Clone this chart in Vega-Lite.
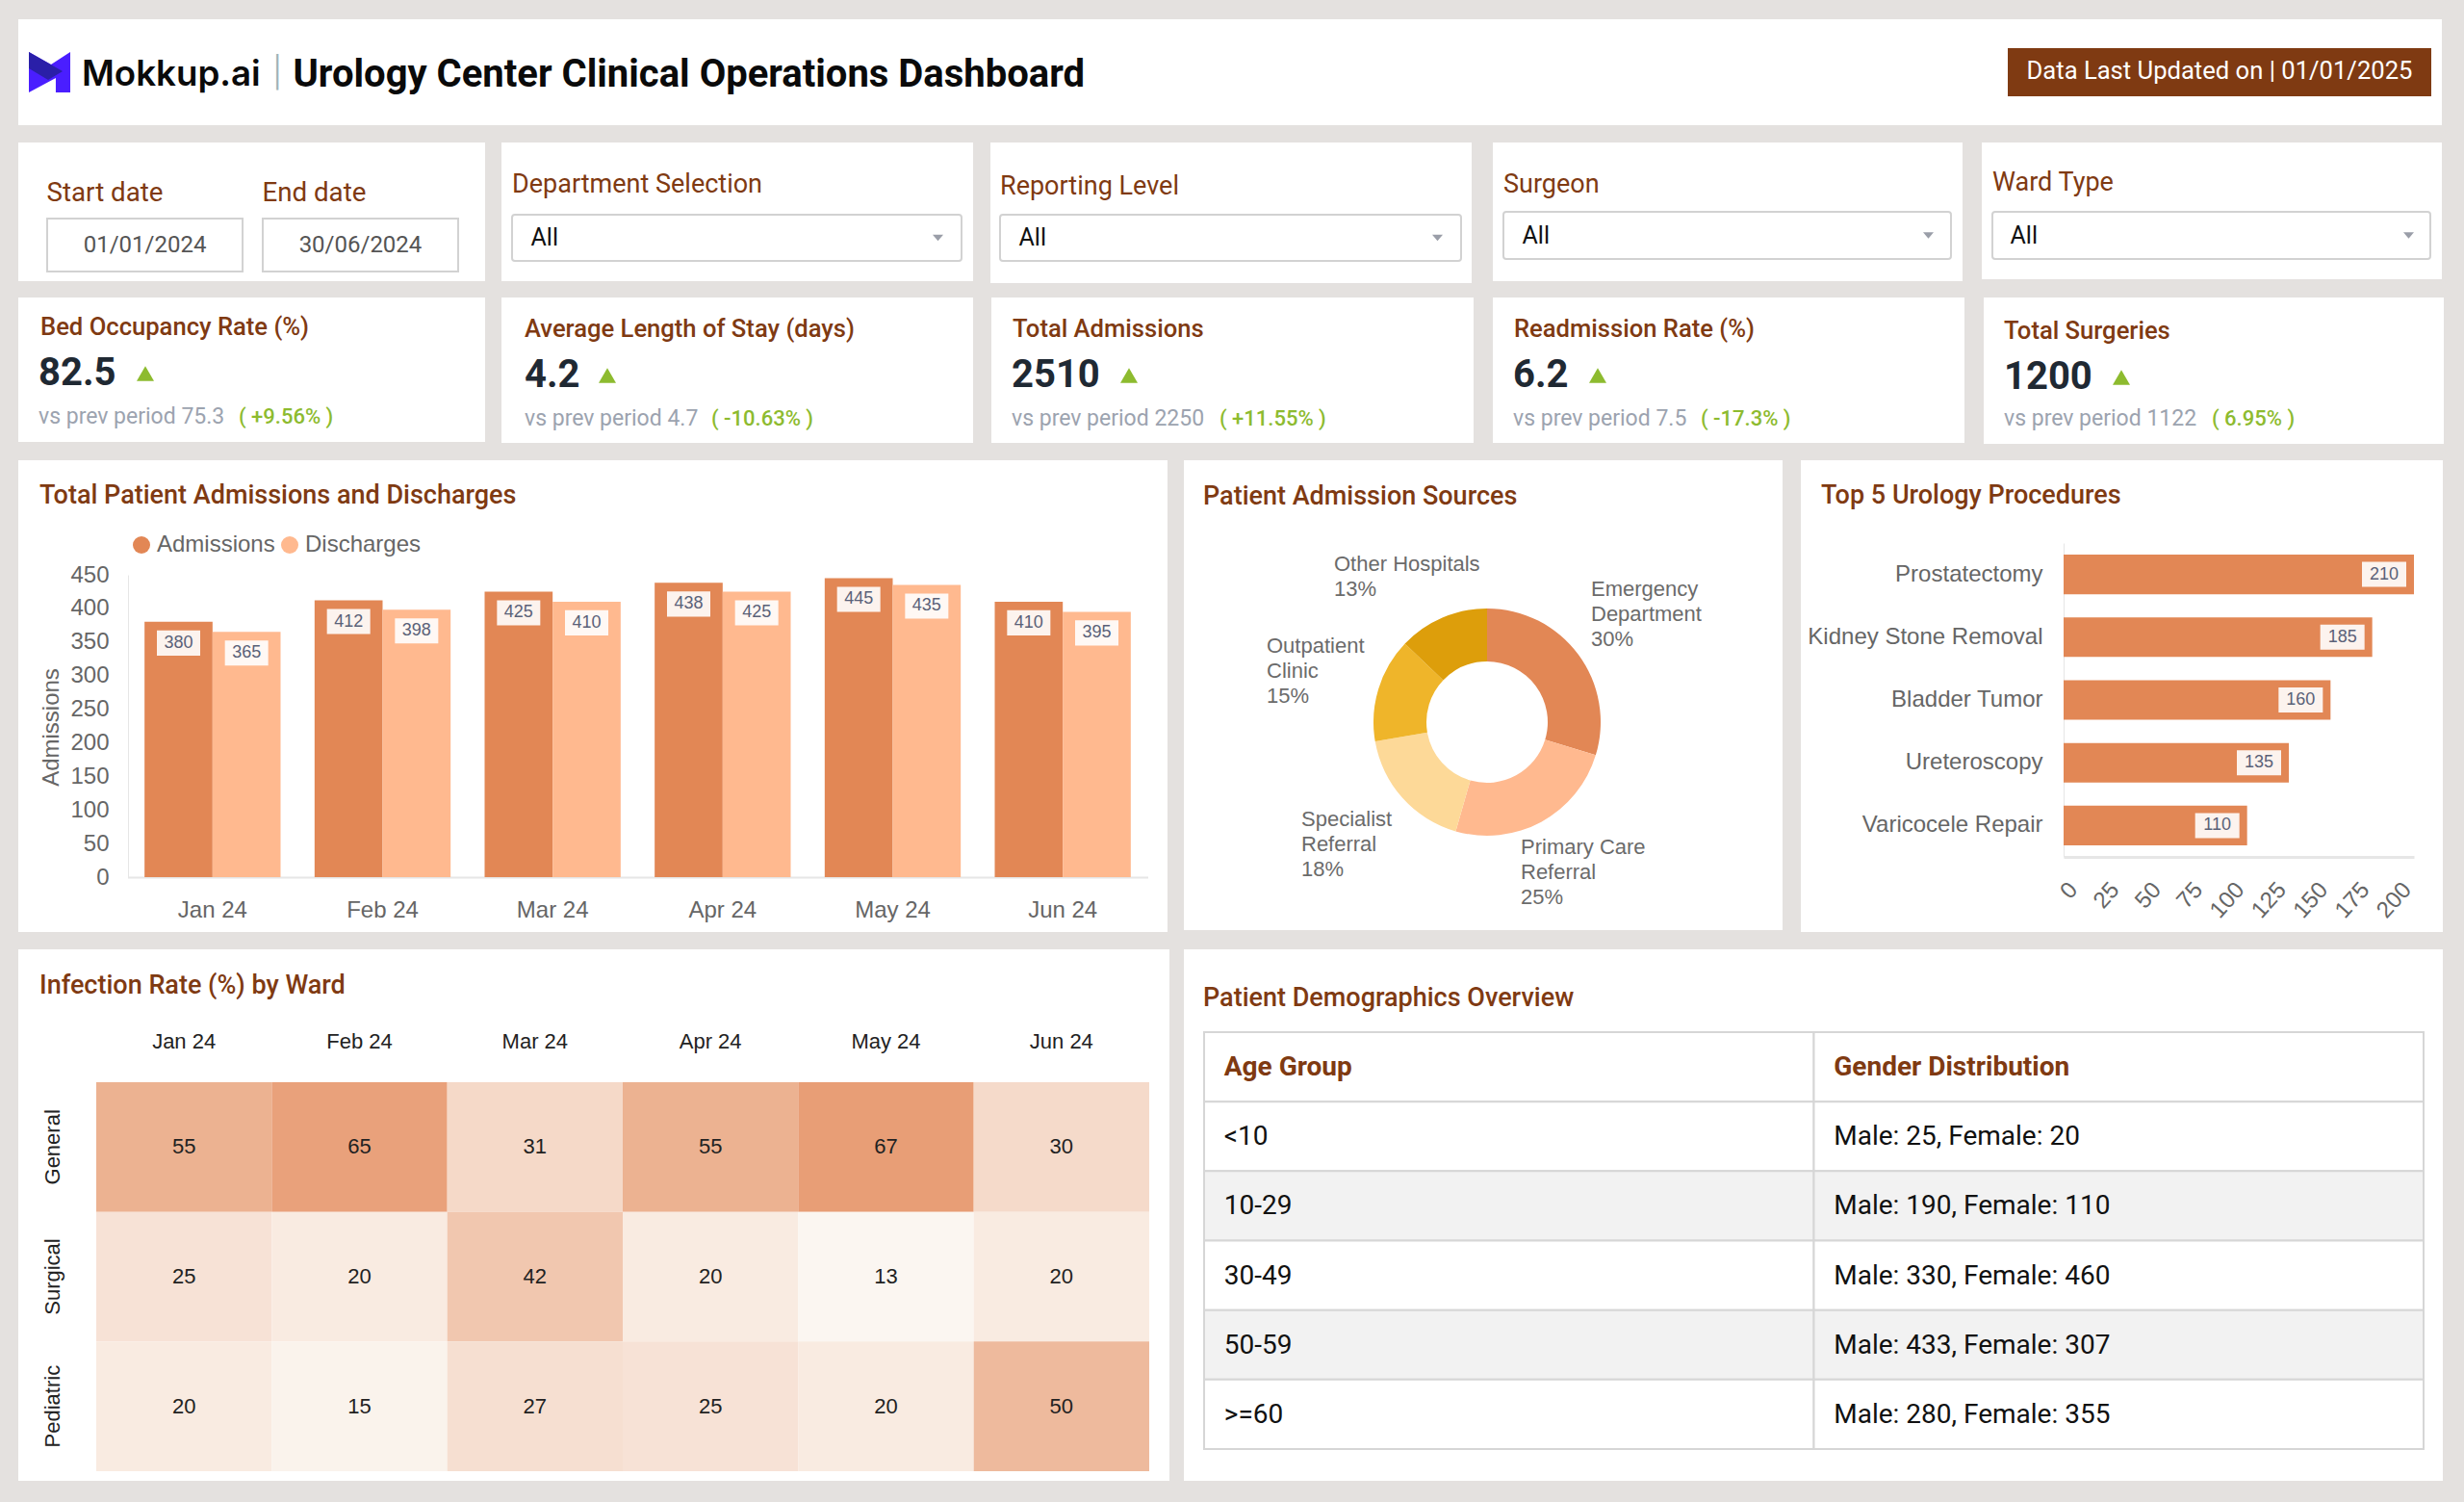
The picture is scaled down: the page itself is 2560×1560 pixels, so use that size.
{"$schema":"https://vega.github.io/schema/vega-lite/v6.json","padding":{"left":19,"top":20,"right":21,"bottom":22},"background":"#E4E1DF","config":{"view":{"fill":"white","stroke":null},"title":{"anchor":"start","frame":"group","font":"Roboto","fontSize":27,"fontWeight":500,"color":"#7F3A12"},"axis":{"grid":false,"ticks":false,"labelFont":"Liberation Sans","labelColor":"#666666","labelFontSize":24,"titleFont":"Liberation Sans","titleFontWeight":"normal","titleColor":"#666666","titleFontSize":24,"domainColor":"#E6E6E6"},"style":{"selected":{"font":"Roboto","fontSize":25,"color":"#111111","align":"left"},"dateLabel":{"font":"Roboto","fontSize":27.7,"color":"#7F3A12","align":"left"},"dateValue":{"font":"Roboto","fontSize":24,"color":"#555555"},"kpiValue":{"font":"Roboto","fontSize":40,"fontWeight":700,"color":"#1F2933","align":"left"},"kpiPrev":{"font":"Roboto","fontSize":23,"color":"#9CA3AF","align":"left"},"kpiChange":{"font":"Roboto","fontSize":22,"fontWeight":500,"color":"#8DBB2F","align":"left"},"barLabel":{"font":"Liberation Sans","fontSize":18,"color":"#5A6178"},"heatText":{"font":"Liberation Sans","fontSize":22,"color":"#222222"},"tableBody":{"font":"Roboto","fontSize":28,"color":"#111111","align":"left"},"tableHead":{"font":"Roboto","fontSize":28,"fontWeight":700,"color":"#7F3A12","align":"left"},"donutLabel":{"font":"Liberation Sans","fontSize":22,"color":"#6B6B6B","align":"left","baseline":"top","lineBreak":"\n","lineHeight":26}}},"resolve":{"scale":{"color":"independent","fill":"independent"}},"vconcat":[{"resolve":{"scale":{"color":"independent","fill":"independent"}},"vconcat":[{"vconcat":[{"width":2518,"height":110,"data":{"values":[{"brand":"Mokkup.ai","dashboard":"Urology Center Clinical Operations Dashboard","updated":"Data Last Updated on | 01/01/2025"}]},"resolve":{"scale":{"x":"independent"}},"layer":[{"mark":{"type":"point","filled":true,"opacity":1,"size":1849,"color":"#4A1EFF","shape":"M-1,-0.98L0.07,-0.37L1,-0.98V0.98H0.3V0.28L-1,0.98Z"},"encoding":{"x":{"field":"brand","type":"nominal","axis":null,"scale":{"range":[32.5,32.5]}}}},{"mark":{"type":"point","filled":true,"opacity":1,"size":1849,"color":"#2A1FA8","shape":"M-1,-0.98L0.63,-0.05L-0.07,0.37L-1,-0.19Z"},"encoding":{"x":{"field":"brand","type":"nominal","axis":null,"scale":{"range":[32.5,32.5]}}}},{"mark":{"type":"text","align":"left","font":"Inter","fontSize":36.7,"fontWeight":600,"color":"#0A0A0A","dy":3},"encoding":{"x":{"field":"brand","type":"nominal","axis":null,"scale":{"range":[66,66]}},"text":{"field":"brand"}}},{"mark":{"type":"text","text":"|","font":"Roboto","fontWeight":300,"fontSize":44,"color":"#9FB3B8"},"encoding":{"x":{"field":"brand","type":"nominal","axis":null,"scale":{"range":[269,269]}}}},{"mark":{"type":"text","align":"left","font":"Roboto","fontSize":40,"fontWeight":700,"color":"#0A0A0A","dy":3},"encoding":{"x":{"field":"dashboard","type":"nominal","axis":null,"scale":{"range":[285.5,285.5]}},"text":{"field":"dashboard"}}},{"mark":{"type":"rect","color":"#7F3A12"},"encoding":{"x":{"field":"updated","type":"nominal","axis":null,"scale":{"type":"band","range":[2067,2507],"paddingInner":0,"paddingOuter":0}},"y":{"field":"updated","type":"nominal","axis":null,"scale":{"type":"band","range":[30,80],"paddingInner":0,"paddingOuter":0}}}},{"mark":{"type":"text","font":"Roboto","fontSize":25.6,"color":"white","dy":-1},"encoding":{"x":{"field":"updated","type":"nominal","axis":null,"scale":{"range":[2287,2287]}},"text":{"field":"updated"}}}]},{"hconcat":[{"hconcat":[{"hconcat":[{"width":485,"height":144,"data":{"values":[{"control":"Start date","date":"01/01/2024"},{"control":"End date","date":"30/06/2024"}]},"encoding":{"x":{"field":"control","type":"nominal","sort":["Start date","End date"],"axis":null,"scale":{"type":"band","domain":["Start date","End date"],"range":[30,457],"paddingInner":0.0935,"paddingOuter":0}},"y":{"datum":"dates","axis":null,"scale":{"type":"band","range":[79,134],"paddingInner":0,"paddingOuter":0}}},"layer":[{"mark":{"type":"rect","fill":"white","stroke":"#D2D2D2","strokeWidth":2}},{"mark":{"type":"text","style":"dateValue"},"encoding":{"text":{"field":"date"}}},{"mark":{"type":"text","style":"dateLabel","dx":-102,"dy":-54},"encoding":{"text":{"field":"control"}}}]},{"width":490,"height":144,"title":{"text":"Department Selection","dx":11,"offset":-58,"fontWeight":400},"data":{"values":[{"control":"Department Selection","selected":"All"}]},"encoding":{"x":{"field":"control","type":"nominal","axis":null,"scale":{"type":"band","range":[11,478],"paddingInner":0,"paddingOuter":0}},"y":{"field":"control","type":"nominal","axis":null,"scale":{"type":"band","range":[75,123],"paddingInner":0,"paddingOuter":0}}},"layer":[{"mark":{"type":"rect","fill":"white","stroke":"#D2D2D2","strokeWidth":2,"cornerRadius":3}},{"mark":{"type":"text","style":"selected","dx":-214},"encoding":{"text":{"field":"selected"}}},{"mark":{"type":"point","filled":true,"opacity":1,"color":"#9A9EA8","size":121,"shape":"M-1,-0.6H1L0,0.6Z","xOffset":209}}]}],"spacing":17},{"width":500,"height":146,"title":{"text":"Reporting Level","dx":10,"offset":-60,"fontWeight":400},"data":{"values":[{"control":"Reporting Level","selected":"All"}]},"encoding":{"x":{"field":"control","type":"nominal","axis":null,"scale":{"type":"band","range":[10,489],"paddingInner":0,"paddingOuter":0}},"y":{"field":"control","type":"nominal","axis":null,"scale":{"type":"band","range":[75,123],"paddingInner":0,"paddingOuter":0}}},"layer":[{"mark":{"type":"rect","fill":"white","stroke":"#D2D2D2","strokeWidth":2,"cornerRadius":3}},{"mark":{"type":"text","style":"selected","dx":-220},"encoding":{"text":{"field":"selected"}}},{"mark":{"type":"point","filled":true,"opacity":1,"color":"#9A9EA8","size":121,"shape":"M-1,-0.6H1L0,0.6Z","xOffset":215}}]}],"spacing":18},{"hconcat":[{"width":488,"height":144,"title":{"text":"Surgeon","dx":11,"offset":-58,"fontWeight":400},"data":{"values":[{"control":"Surgeon","selected":"All"}]},"encoding":{"x":{"field":"control","type":"nominal","axis":null,"scale":{"type":"band","range":[11,476],"paddingInner":0,"paddingOuter":0}},"y":{"field":"control","type":"nominal","axis":null,"scale":{"type":"band","range":[72,121],"paddingInner":0,"paddingOuter":0}}},"layer":[{"mark":{"type":"rect","fill":"white","stroke":"#D2D2D2","strokeWidth":2,"cornerRadius":3}},{"mark":{"type":"text","style":"selected","dx":-213},"encoding":{"text":{"field":"selected"}}},{"mark":{"type":"point","filled":true,"opacity":1,"color":"#9A9EA8","size":121,"shape":"M-1,-0.6H1L0,0.6Z","xOffset":209}}]},{"width":478,"height":142,"title":{"text":"Ward Type","dx":11,"offset":-56,"fontWeight":400},"data":{"values":[{"control":"Ward Type","selected":"All"}]},"encoding":{"x":{"field":"control","type":"nominal","axis":null,"scale":{"type":"band","range":[11,466],"paddingInner":0,"paddingOuter":0}},"y":{"field":"control","type":"nominal","axis":null,"scale":{"type":"band","range":[72,121],"paddingInner":0,"paddingOuter":0}}},"layer":[{"mark":{"type":"rect","fill":"white","stroke":"#D2D2D2","strokeWidth":2,"cornerRadius":3}},{"mark":{"type":"text","style":"selected","dx":-209},"encoding":{"text":{"field":"selected"}}},{"mark":{"type":"point","filled":true,"opacity":1,"color":"#9A9EA8","size":121,"shape":"M-1,-0.6H1L0,0.6Z","xOffset":205}}]}],"spacing":20}],"spacing":22}],"spacing":18},{"resolve":{"scale":{"color":"independent","fill":"independent"}},"vconcat":[{"hconcat":[{"hconcat":[{"hconcat":[{"width":485,"height":150,"title":{"text":"Bed Occupancy Rate (%)","dx":23,"offset":-45,"fontSize":25.6},"data":{"values":[{"metric":"Bed Occupancy Rate (%)","value":"82.5","previous":"vs prev period 75.3","change":"( +9.56% )"}]},"encoding":{"x":{"field":"metric","type":"nominal","axis":null,"scale":{"range":[21,21]}}},"layer":[{"mark":{"type":"text","style":"kpiValue"},"encoding":{"text":{"field":"value"},"y":{"datum":"main","axis":null,"scale":{"domain":["main","compare"],"range":[79,124],"padding":0}}}},{"mark":{"type":"point","shape":"triangle-up","filled":true,"opacity":1,"size":324,"color":"#8DBB2F","xOffset":111},"encoding":{"y":{"datum":"main","axis":null}}},{"mark":{"type":"text","style":"kpiPrev"},"encoding":{"text":{"field":"previous"},"y":{"datum":"compare","axis":null}}},{"mark":{"type":"text","style":"kpiChange","dx":208},"encoding":{"text":{"field":"change"},"y":{"datum":"compare","axis":null}}}]},{"width":490,"height":151,"title":{"text":"Average Length of Stay (days)","dx":24,"offset":-47,"fontSize":25.6},"data":{"values":[{"metric":"Average Length of Stay (days)","value":"4.2","previous":"vs prev period 4.7","change":"( -10.63% )"}]},"encoding":{"x":{"field":"metric","type":"nominal","axis":null,"scale":{"range":[24,24]}}},"layer":[{"mark":{"type":"text","style":"kpiValue"},"encoding":{"text":{"field":"value"},"y":{"datum":"main","axis":null,"scale":{"domain":["main","compare"],"range":[81,126],"padding":0}}}},{"mark":{"type":"point","shape":"triangle-up","filled":true,"opacity":1,"size":324,"color":"#8DBB2F","xOffset":86},"encoding":{"y":{"datum":"main","axis":null}}},{"mark":{"type":"text","style":"kpiPrev"},"encoding":{"text":{"field":"previous"},"y":{"datum":"compare","axis":null}}},{"mark":{"type":"text","style":"kpiChange","dx":194},"encoding":{"text":{"field":"change"},"y":{"datum":"compare","axis":null}}}]}],"spacing":17},{"width":501,"height":151,"title":{"text":"Total Admissions","dx":22,"offset":-47,"fontSize":25.6},"data":{"values":[{"metric":"Total Admissions","value":"2510","previous":"vs prev period 2250","change":"( +11.55% )"}]},"encoding":{"x":{"field":"metric","type":"nominal","axis":null,"scale":{"range":[21,21]}}},"layer":[{"mark":{"type":"text","style":"kpiValue"},"encoding":{"text":{"field":"value"},"y":{"datum":"main","axis":null,"scale":{"domain":["main","compare"],"range":[81,126],"padding":0}}}},{"mark":{"type":"point","shape":"triangle-up","filled":true,"opacity":1,"size":324,"color":"#8DBB2F","xOffset":122},"encoding":{"y":{"datum":"main","axis":null}}},{"mark":{"type":"text","style":"kpiPrev"},"encoding":{"text":{"field":"previous"},"y":{"datum":"compare","axis":null}}},{"mark":{"type":"text","style":"kpiChange","dx":216},"encoding":{"text":{"field":"change"},"y":{"datum":"compare","axis":null}}}]}],"spacing":19},{"hconcat":[{"width":490,"height":151,"title":{"text":"Readmission Rate (%)","dx":22,"offset":-47,"fontSize":25.6},"data":{"values":[{"metric":"Readmission Rate (%)","value":"6.2","previous":"vs prev period 7.5","change":"( -17.3% )"}]},"encoding":{"x":{"field":"metric","type":"nominal","axis":null,"scale":{"range":[21,21]}}},"layer":[{"mark":{"type":"text","style":"kpiValue"},"encoding":{"text":{"field":"value"},"y":{"datum":"main","axis":null,"scale":{"domain":["main","compare"],"range":[81,126],"padding":0}}}},{"mark":{"type":"point","shape":"triangle-up","filled":true,"opacity":1,"size":324,"color":"#8DBB2F","xOffset":88},"encoding":{"y":{"datum":"main","axis":null}}},{"mark":{"type":"text","style":"kpiPrev"},"encoding":{"text":{"field":"previous"},"y":{"datum":"compare","axis":null}}},{"mark":{"type":"text","style":"kpiChange","dx":195},"encoding":{"text":{"field":"change"},"y":{"datum":"compare","axis":null}}}]},{"width":478,"height":152,"title":{"text":"Total Surgeries","dx":21,"offset":-49,"fontSize":25.6},"data":{"values":[{"metric":"Total Surgeries","value":"1200","previous":"vs prev period 1122","change":"( 6.95% )"}]},"encoding":{"x":{"field":"metric","type":"nominal","axis":null,"scale":{"range":[21,21]}}},"layer":[{"mark":{"type":"text","style":"kpiValue"},"encoding":{"text":{"field":"value"},"y":{"datum":"main","axis":null,"scale":{"domain":["main","compare"],"range":[83,126],"padding":0}}}},{"mark":{"type":"point","shape":"triangle-up","filled":true,"opacity":1,"size":324,"color":"#8DBB2F","xOffset":122},"encoding":{"y":{"datum":"main","axis":null}}},{"mark":{"type":"text","style":"kpiPrev"},"encoding":{"text":{"field":"previous"},"y":{"datum":"compare","axis":null}}},{"mark":{"type":"text","style":"kpiChange","dx":216},"encoding":{"text":{"field":"change"},"y":{"datum":"compare","axis":null}}}]}],"spacing":20}],"spacing":20},{"resolve":{"scale":{"color":"independent","fill":"independent"}},"hconcat":[{"resolve":{"scale":{"color":"independent","fill":"independent"}},"hconcat":[{"width":1194,"height":490,"title":{"text":"Total Patient Admissions and Discharges","dx":22,"offset":-51},"data":{"values":[{"month":"Jan 24","series":"Admissions","count":380},{"month":"Jan 24","series":"Discharges","count":365},{"month":"Feb 24","series":"Admissions","count":412},{"month":"Feb 24","series":"Discharges","count":398},{"month":"Mar 24","series":"Admissions","count":425},{"month":"Mar 24","series":"Discharges","count":410},{"month":"Apr 24","series":"Admissions","count":438},{"month":"Apr 24","series":"Discharges","count":425},{"month":"May 24","series":"Admissions","count":445},{"month":"May 24","series":"Discharges","count":435},{"month":"Jun 24","series":"Admissions","count":410},{"month":"Jun 24","series":"Discharges","count":395}]},"encoding":{"x":{"field":"month","type":"nominal","sort":["Jan 24","Feb 24","Mar 24","Apr 24","May 24","Jun 24"],"scale":{"range":[113.5,1173.5],"paddingInner":0.2,"paddingOuter":0.1},"axis":{"title":null,"labelAngle":0,"offset":-57,"labelPadding":22,"domainWidth":2}},"xOffset":{"field":"series","sort":["Admissions","Discharges"]},"y":{"field":"count","type":"quantitative","scale":{"domain":[0,450],"range":[433,119],"nice":false},"axis":{"title":"Admissions","offset":-114,"labelPadding":20,"values":[0,50,100,150,200,250,300,350,400,450],"titleX":-68,"titleY":277}}},"layer":[{"mark":{"type":"bar"},"encoding":{"color":{"field":"series","type":"nominal","scale":{"domain":["Admissions","Discharges"],"range":["#E28755","#FFB98F"]},"legend":{"orient":"none","legendX":116,"legendY":76,"direction":"horizontal","title":null,"symbolType":"circle","symbolSize":324,"symbolStrokeWidth":0,"labelFontSize":24,"labelFont":"Liberation Sans","labelColor":"#666666","columnPadding":3,"labelOffset":4}}}},{"mark":{"type":"point","filled":true,"opacity":0.9,"color":"white","size":2025,"shape":"M-1,-0.58H1V0.58H-1Z","yOffset":22}},{"mark":{"type":"text","style":"barLabel","yOffset":22},"encoding":{"text":{"field":"count"}}}]},{"width":622,"height":488,"title":{"text":"Patient Admission Sources","dx":20,"offset":-52},"data":{"values":[{"source":"Emergency Department","share":30,"rank":1,"label":"Emergency\nDepartment\n30%"},{"source":"Primary Care Referral","share":25,"rank":2,"label":"Primary Care\nReferral\n25%"},{"source":"Specialist Referral","share":18,"rank":3,"label":"Specialist\nReferral\n18%"},{"source":"Outpatient Clinic","share":15,"rank":4,"label":"Outpatient\nClinic\n15%"},{"source":"Other Hospitals","share":13,"rank":5,"label":"Other Hospitals\n13%"}]},"encoding":{"x":{"datum":"donut","axis":null,"scale":{"range":[315,315]}},"y":{"datum":"donut","axis":null,"scale":{"range":[272,272]}}},"layer":[{"mark":{"type":"arc","outerRadius":118,"innerRadius":63},"encoding":{"theta":{"field":"share","type":"quantitative","stack":true},"order":{"field":"rank"},"color":{"field":"source","type":"nominal","legend":null,"scale":{"domain":["Emergency Department","Primary Care Referral","Specialist Referral","Outpatient Clinic","Other Hospitals"],"range":["#E28755","#FFB98F","#FDD998","#EFB52A","#DD9E0B"]}}}},{"transform":[{"filter":"datum.rank==1"}],"mark":{"type":"text","style":"donutLabel","dx":108,"dy":-148},"encoding":{"text":{"field":"label"}}},{"transform":[{"filter":"datum.rank==2"}],"mark":{"type":"text","style":"donutLabel","dx":35,"dy":120},"encoding":{"text":{"field":"label"}}},{"transform":[{"filter":"datum.rank==3"}],"mark":{"type":"text","style":"donutLabel","dx":-193,"dy":91},"encoding":{"text":{"field":"label"}}},{"transform":[{"filter":"datum.rank==4"}],"mark":{"type":"text","style":"donutLabel","dx":-229,"dy":-89},"encoding":{"text":{"field":"label"}}},{"transform":[{"filter":"datum.rank==5"}],"mark":{"type":"text","style":"donutLabel","dx":-159,"dy":-174},"encoding":{"text":{"field":"label"}}}]}],"spacing":17},{"width":667,"height":490,"title":{"text":"Top 5 Urology Procedures","dx":21,"offset":-51},"data":{"values":[{"procedure":"Prostatectomy","cases":210},{"procedure":"Kidney Stone Removal","cases":185},{"procedure":"Bladder Tumor","cases":160},{"procedure":"Ureteroscopy","cases":135},{"procedure":"Varicocele Repair","cases":110}]},"encoding":{"y":{"field":"procedure","type":"nominal","sort":["Prostatectomy","Kidney Stone Removal","Bladder Tumor","Ureteroscopy","Varicocele Repair"],"scale":{"range":[86,412],"paddingInner":0.37,"paddingOuter":0.185},"axis":{"title":null,"offset":-273,"labelPadding":22,"labelLimit":400}},"x":{"field":"cases","type":"quantitative","scale":{"domain":[0,210],"range":[273,637],"nice":false},"axis":{"title":null,"offset":-78,"values":[0,25,50,75,100,125,150,175,200],"labelAngle":-48,"labelAlign":"right","labelBaseline":"middle","labelOffset":10,"labelPadding":30,"labelFontSize":24,"labelOverlap":false,"domainWidth":3}}},"layer":[{"mark":{"type":"bar","color":"#E28755"}},{"mark":{"type":"point","filled":true,"opacity":0.9,"color":"white","size":2116,"shape":"M-1,-0.565H1V0.565H-1Z","xOffset":-31}},{"mark":{"type":"text","style":"barLabel","xOffset":-31},"encoding":{"text":{"field":"cases"}}}]}],"spacing":19}],"spacing":17}],"spacing":15},{"resolve":{"scale":{"color":"independent","fill":"independent"}},"hconcat":[{"width":1196,"height":552,"title":{"text":"Infection Rate (%) by Ward","dx":22,"offset":-52},"data":{"values":[{"month":"Jan 24","ward":"General","rate":55},{"month":"Feb 24","ward":"General","rate":65},{"month":"Mar 24","ward":"General","rate":31},{"month":"Apr 24","ward":"General","rate":55},{"month":"May 24","ward":"General","rate":67},{"month":"Jun 24","ward":"General","rate":30},{"month":"Jan 24","ward":"Surgical","rate":25},{"month":"Feb 24","ward":"Surgical","rate":20},{"month":"Mar 24","ward":"Surgical","rate":42},{"month":"Apr 24","ward":"Surgical","rate":20},{"month":"May 24","ward":"Surgical","rate":13},{"month":"Jun 24","ward":"Surgical","rate":20},{"month":"Jan 24","ward":"Pediatric","rate":20},{"month":"Feb 24","ward":"Pediatric","rate":15},{"month":"Mar 24","ward":"Pediatric","rate":27},{"month":"Apr 24","ward":"Pediatric","rate":25},{"month":"May 24","ward":"Pediatric","rate":20},{"month":"Jun 24","ward":"Pediatric","rate":50}]},"encoding":{"x":{"field":"month","type":"nominal","sort":["Jan 24","Feb 24","Mar 24","Apr 24","May 24","Jun 24"],"scale":{"type":"band","range":[81,1175],"paddingInner":0,"paddingOuter":0},"axis":{"orient":"top","title":null,"labelAngle":0,"offset":-138,"labelPadding":31,"labelFontSize":22,"labelColor":"#222222","domain":false}},"y":{"field":"ward","type":"nominal","sort":["General","Surgical","Pediatric"],"scale":{"type":"band","range":[138,542],"paddingInner":0,"paddingOuter":0},"axis":{"title":null,"labelAngle":-90,"offset":-81,"labelPadding":34,"labelFontSize":22,"labelColor":"#222222","domain":false}}},"layer":[{"mark":{"type":"rect"},"encoding":{"color":{"field":"rate","type":"quantitative","legend":null,"scale":{"domain":[13,67],"range":["#FBF6F1","#E89E76"],"interpolate":"rgb"}}}},{"mark":{"type":"text","style":"heatText"},"encoding":{"text":{"field":"rate"}}}]},{"width":1308,"height":552,"title":{"text":"Patient Demographics Overview","dx":20,"offset":-65},"data":{"values":[{"row":"Header","column":"Age Group","cell":"Age Group"},{"row":"Header","column":"Gender Distribution","cell":"Gender Distribution"},{"row":"<10","column":"Age Group","cell":"<10"},{"row":"<10","column":"Gender Distribution","cell":"Male: 25, Female: 20"},{"row":"10-29","column":"Age Group","cell":"10-29"},{"row":"10-29","column":"Gender Distribution","cell":"Male: 190, Female: 110"},{"row":"30-49","column":"Age Group","cell":"30-49"},{"row":"30-49","column":"Gender Distribution","cell":"Male: 330, Female: 460"},{"row":"50-59","column":"Age Group","cell":"50-59"},{"row":"50-59","column":"Gender Distribution","cell":"Male: 433, Female: 307"},{"row":">=60","column":"Age Group","cell":">=60"},{"row":">=60","column":"Gender Distribution","cell":"Male: 280, Female: 355"}]},"encoding":{"x":{"field":"column","type":"nominal","axis":null,"sort":["Age Group","Gender Distribution"],"scale":{"type":"band","range":[21,1288],"paddingInner":0,"paddingOuter":0}},"y":{"field":"row","type":"nominal","axis":null,"scale":{"type":"band","domain":["Header","<10","10-29","30-49","50-59",">=60"],"range":[86,519],"paddingInner":0,"paddingOuter":0}}},"layer":[{"mark":{"type":"rect","stroke":"#D6D6D6","strokeWidth":2},"encoding":{"fill":{"field":"row","type":"nominal","legend":null,"scale":{"domain":["Header","<10","10-29","30-49","50-59",">=60"],"range":["#FFFFFF","#FFFFFF","#F2F2F2","#FFFFFF","#F2F2F2","#FFFFFF"]}}}},{"transform":[{"filter":"datum.row=='Header'"}],"mark":{"type":"text","style":"tableHead","dx":-296,"dy":1},"encoding":{"text":{"field":"cell"}}},{"transform":[{"filter":"datum.row!='Header'"}],"mark":{"type":"text","style":"tableBody","dx":-296,"dy":1},"encoding":{"text":{"field":"cell"}}}]}],"spacing":15}],"spacing":18}
